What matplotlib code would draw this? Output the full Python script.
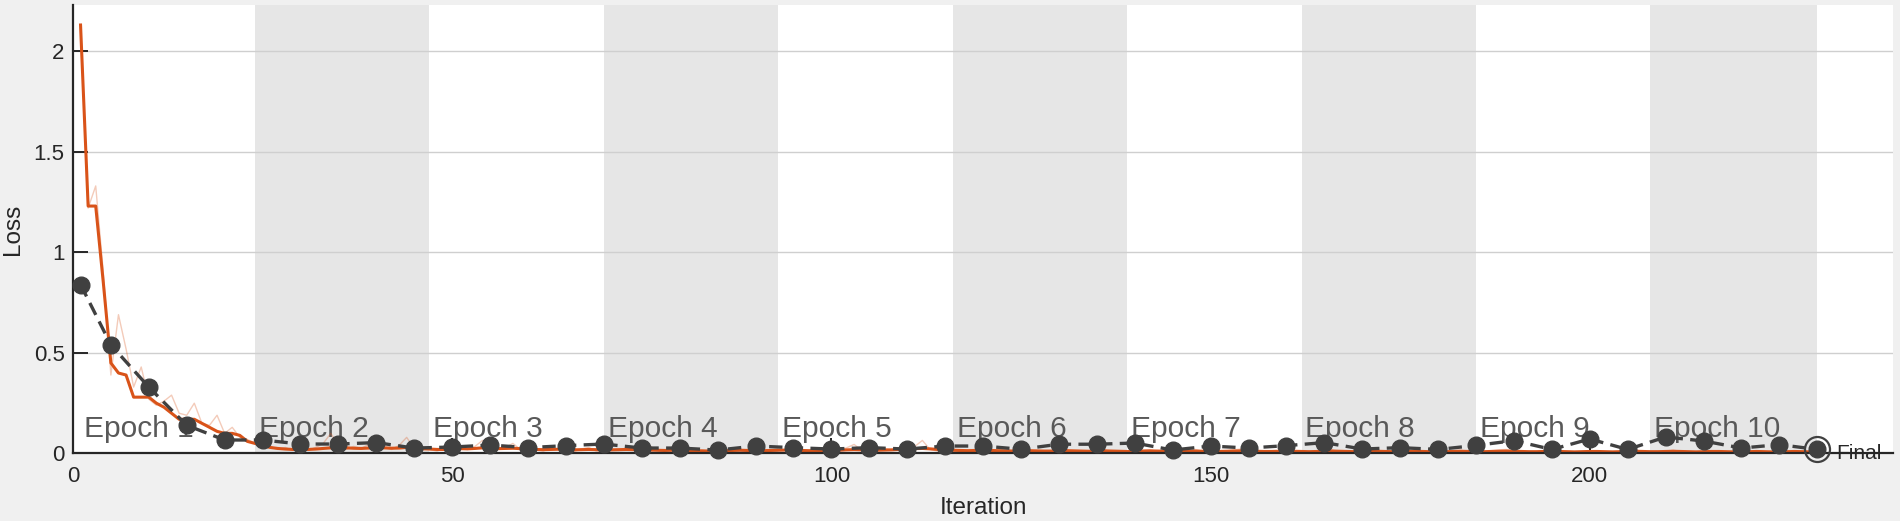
import matplotlib
matplotlib.use('Agg')
import matplotlib.pyplot as plt

plt.rcParams['font.family'] = ['Liberation Sans', 'DejaVu Sans']

# smoothed training loss, iterations 1..230
train_smooth = [
    2.13, 1.23, 1.23, 0.85, 0.45, 0.40, 0.39, 0.28, 0.28, 0.28,
    0.25, 0.23, 0.20, 0.17, 0.17, 0.17, 0.15, 0.13, 0.11, 0.10,
    0.10, 0.09, 0.06, 0.05, 0.04, 0.03, 0.025, 0.022, 0.020, 0.020,
    0.020, 0.022, 0.025, 0.028, 0.030, 0.028, 0.026, 0.025, 0.027, 0.030,
    0.028, 0.026, 0.027, 0.030, 0.028, 0.025, 0.022, 0.020, 0.020, 0.022,
    0.024, 0.023, 0.025, 0.028, 0.026, 0.024, 0.025, 0.026, 0.024, 0.022,
    0.020, 0.019, 0.020, 0.021, 0.020, 0.018, 0.019, 0.020, 0.019, 0.018,
    0.018, 0.019, 0.020, 0.019, 0.018, 0.017, 0.016, 0.015, 0.016, 0.017,
    0.015, 0.014, 0.013, 0.012, 0.013, 0.014, 0.015, 0.016, 0.015, 0.014,
    0.014, 0.015, 0.016, 0.017, 0.016, 0.015, 0.014, 0.013, 0.014, 0.015,
    0.016, 0.018, 0.019, 0.018, 0.017, 0.016, 0.017, 0.018, 0.020, 0.022,
    0.024, 0.025, 0.023, 0.020, 0.018, 0.016, 0.015, 0.014, 0.015, 0.016,
    0.015, 0.014, 0.013, 0.012, 0.013, 0.014, 0.013, 0.012, 0.012, 0.013,
    0.014, 0.013, 0.012, 0.011, 0.012, 0.013, 0.012, 0.011, 0.010, 0.011,
    0.012, 0.013, 0.012, 0.011, 0.010, 0.010, 0.011, 0.012, 0.011, 0.010,
    0.010, 0.011, 0.012, 0.013, 0.012, 0.011, 0.010, 0.010, 0.011, 0.012,
    0.011, 0.010, 0.009, 0.010, 0.011, 0.012, 0.011, 0.010, 0.009, 0.009,
    0.010, 0.011, 0.010, 0.009, 0.009, 0.010, 0.011, 0.010, 0.009, 0.008,
    0.009, 0.010, 0.011, 0.010, 0.009, 0.009, 0.010, 0.011, 0.012, 0.011,
    0.010, 0.009, 0.009, 0.010, 0.011, 0.010, 0.009, 0.008, 0.009, 0.010,
    0.010, 0.009, 0.008, 0.009, 0.010, 0.011, 0.010, 0.009, 0.009, 0.010,
    0.011, 0.010, 0.009, 0.008, 0.009, 0.010, 0.010, 0.009, 0.008, 0.008,
    0.009, 0.010, 0.009, 0.008, 0.008, 0.009, 0.010, 0.009, 0.008, 0.008,
]

# raw training loss, iterations 1..230
train_raw = [
    2.13, 1.22, 1.33, 0.90, 0.39, 0.69, 0.52, 0.33, 0.43, 0.27,
    0.24, 0.26, 0.29, 0.20, 0.19, 0.25, 0.15, 0.14, 0.19, 0.10,
    0.13, 0.08, 0.07, 0.05, 0.04, 0.035, 0.020, 0.030, 0.015, 0.045,
    0.015, 0.030, 0.050, 0.100, 0.040, 0.020, 0.035, 0.025, 0.045, 0.090,
    0.030, 0.020, 0.040, 0.080, 0.025, 0.015, 0.020, 0.012, 0.025, 0.018,
    0.030, 0.020, 0.035, 0.065, 0.025, 0.020, 0.030, 0.050, 0.020, 0.015,
    0.018, 0.012, 0.025, 0.020, 0.015, 0.010, 0.022, 0.030, 0.012, 0.015,
    0.020, 0.015, 0.028, 0.018, 0.012, 0.040, 0.015, 0.010, 0.020, 0.025,
    0.012, 0.008, 0.015, 0.010, 0.018, 0.012, 0.025, 0.015, 0.010, 0.020,
    0.012, 0.018, 0.022, 0.015, 0.010, 0.020, 0.012, 0.008, 0.018, 0.022,
    0.015, 0.028, 0.045, 0.015, 0.012, 0.020, 0.025, 0.018, 0.030, 0.020,
    0.035, 0.065, 0.020, 0.012, 0.010, 0.015, 0.012, 0.008, 0.020, 0.015,
    0.010, 0.012, 0.008, 0.010, 0.018, 0.015, 0.010, 0.008, 0.012, 0.020,
    0.015, 0.010, 0.008, 0.006, 0.015, 0.018, 0.010, 0.008, 0.006, 0.012,
    0.015, 0.018, 0.010, 0.008, 0.006, 0.008, 0.015, 0.020, 0.010, 0.006,
    0.008, 0.012, 0.018, 0.022, 0.010, 0.008, 0.006, 0.010, 0.014, 0.018,
    0.010, 0.006, 0.005, 0.012, 0.016, 0.018, 0.008, 0.006, 0.005, 0.008,
    0.014, 0.016, 0.008, 0.005, 0.006, 0.012, 0.016, 0.010, 0.006, 0.004,
    0.008, 0.014, 0.016, 0.008, 0.006, 0.008, 0.014, 0.018, 0.020, 0.010,
    0.008, 0.005, 0.008, 0.014, 0.016, 0.008, 0.006, 0.004, 0.010, 0.014,
    0.012, 0.006, 0.004, 0.010, 0.014, 0.018, 0.010, 0.006, 0.008, 0.012,
    0.016, 0.010, 0.006, 0.004, 0.010, 0.014, 0.012, 0.008, 0.005, 0.006,
    0.010, 0.014, 0.010, 0.006, 0.005, 0.010, 0.014, 0.010, 0.006, 0.008,
]

val_iter = [1, 5, 10, 15, 20, 25, 30, 35, 40, 45, 50, 55, 60, 65, 70, 75,
            80, 85, 90, 95, 100, 105, 110, 115, 120, 125, 130, 135, 140,
            145, 150, 155, 160, 165, 170, 175, 180, 185, 190, 195, 200,
            205, 210, 215, 220, 225, 230]
val_loss = [0.84, 0.54, 0.33, 0.14, 0.067, 0.067, 0.047, 0.047, 0.054,
            0.027, 0.032, 0.042, 0.029, 0.039, 0.047, 0.027, 0.027, 0.017,
            0.037, 0.029, 0.022, 0.029, 0.022, 0.037, 0.037, 0.021, 0.046,
            0.046, 0.052, 0.017, 0.037, 0.027, 0.039, 0.054, 0.022, 0.029,
            0.02, 0.04, 0.064, 0.02, 0.072, 0.02, 0.082, 0.062, 0.027,
            0.044, 0.02]

epoch_bounds = [1, 24, 47, 70, 93, 116, 139, 162, 185, 208, 230]
epoch_labels = ['Epoch %d' % i for i in range(1, 11)]

ORANGE = '#d95319'
DARK = '#404040'

fig = plt.figure(figsize=(19, 5.21), dpi=100, facecolor='#f0f0f0')
ax = fig.add_axes([0.0384, 0.1296, 0.958, 0.861])
ax.set_facecolor('white')

iters = list(range(1, len(train_smooth) + 1))

# shaded even epochs
for i in range(1, len(epoch_bounds) - 1, 2):
    ax.axvspan(epoch_bounds[i], epoch_bounds[i + 1], color='#e6e6e6', lw=0, zorder=0.2)

for i, lab in enumerate(epoch_labels):
    ax.text(epoch_bounds[i] + 0.5, 0.08, lab, fontsize=21.5, color='#595959',
            va='baseline', ha='left', zorder=1.8)

ax.plot(iters, train_raw, color=ORANGE, alpha=0.3, lw=1.0, zorder=2)
ax.plot(iters, train_smooth, color=ORANGE, lw=2.2, zorder=2.2)
ax.plot(val_iter, val_loss, color=DARK, lw=2.4, dashes=(4, 2.2), marker='o',
        markersize=12, markerfacecolor=DARK, markeredgecolor=DARK,
        zorder=3, clip_on=False)

# final point
ax.plot(val_iter[-1], val_loss[-1], marker='o', markersize=18, markerfacecolor='none',
        markeredgecolor=DARK, markeredgewidth=1.6, zorder=3, clip_on=False)
ax.text(val_iter[-1] + 2.5, 0, 'Final', fontsize=15, color='#262626', va='center',
        ha='left', zorder=4)

ax.set_xlim(0, 240)
ax.set_ylim(0, 2.23)
ax.set_xticks([0, 50, 100, 150, 200])
ax.set_yticks([0, 0.5, 1, 1.5, 2])
ax.set_yticklabels(['0', '0.5', '1', '1.5', '2'])

ax.set_axisbelow(True)
ax.yaxis.grid(True, color='#cfcfcf', lw=1.0)

for s in ['top', 'right']:
    ax.spines[s].set_visible(False)
for s in ['left', 'bottom']:
    ax.spines[s].set_color('#262626')
    ax.spines[s].set_linewidth(1.6)

ax.tick_params(axis='both', direction='in', length=11, width=1.4, color='#262626',
               labelsize=16, labelcolor='#262626')
ax.tick_params(axis='x', pad=9)
ax.tick_params(axis='y', pad=6)

ax.set_xlabel('Iteration', fontsize=17.5, color='#262626', labelpad=7)
ax.set_ylabel('Loss', fontsize=17.5, color='#262626', labelpad=7)

fig.savefig('out.png', dpi=100, facecolor=fig.get_facecolor())
